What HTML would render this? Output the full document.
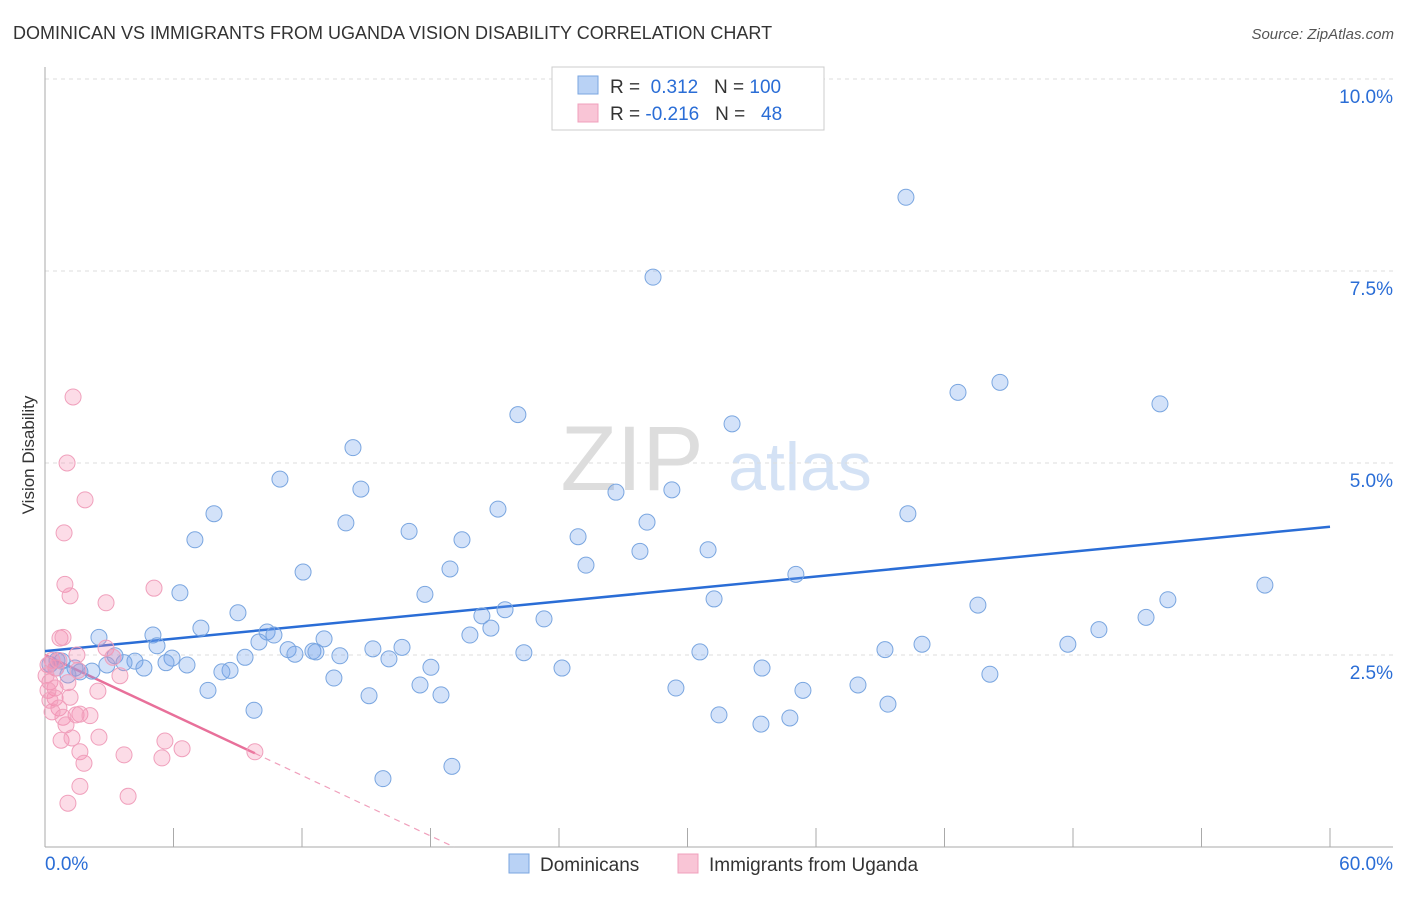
<!DOCTYPE html>
<html><head><meta charset="utf-8"><style>
body{margin:0;background:#fff;font-family:"Liberation Sans",sans-serif;}
svg text{font-family:"Liberation Sans",sans-serif;}
</style></head><body>
<svg id="chart" width="1406" height="892" viewBox="0 0 1406 892">
<text x="13" y="39" font-size="18" fill="#333">DOMINICAN VS IMMIGRANTS FROM UGANDA VISION DISABILITY CORRELATION CHART</text>
<text x="1394" y="39" font-size="15" fill="#555" font-style="italic" text-anchor="end">Source: ZipAtlas.com</text>
<text x="34" y="455" font-size="17" fill="#333" text-anchor="middle" transform="rotate(-90 34 455)">Vision Disability</text>
<g><text x="632" y="490" font-size="92" fill="#ddd" text-anchor="middle" font-family="Liberation Serif">ZIP</text><text x="800" y="490" font-size="68" fill="#d4e2f5" text-anchor="middle">atlas</text></g>
<g id="grid"></g><g id="axes"></g><g id="trend"></g><g id="pts"></g>
<g>
<rect x="552" y="67" width="272" height="63" fill="#fff" stroke="#ccc"/>
<rect x="578" y="76" width="20" height="18" fill="#b9d2f5" stroke="#7aa6e0"/>
<rect x="578" y="104" width="20" height="18" fill="#f9c5d6" stroke="#f0a0bc"/>
<text x="610" y="93" font-size="19" fill="#333">R = <tspan fill="#2a6dd6">&#160;0.312</tspan>&#160;&#160; N = <tspan fill="#2a6dd6">100</tspan></text>
<text x="610" y="120" font-size="19" fill="#333">R = <tspan fill="#2a6dd6">-0.216</tspan>&#160;&#160; N = <tspan fill="#2a6dd6">&#160;&#160;48</tspan></text>
</g>
<g>
<rect x="509" y="854" width="20" height="19" fill="#b9d2f5" stroke="#7aa6e0"/>
<text x="540" y="871" font-size="19" fill="#333">Dominicans</text>
<rect x="678" y="854" width="20" height="19" fill="#f9c5d6" stroke="#f0a0bc"/>
<text x="709" y="871" font-size="19" fill="#333">Immigrants from Uganda</text>
</g>
</svg>
<script>
const blueX=[40.2,28.39,44.59,42.63,52.06,22.08,32.08,14.38,10.97,14.75,26.66,29.27,7.89,21.15,40.29,14.05,28.11,17.0,7.0,19.47,24.89,27.78,30.96,12.05,18.91,25.26,35.06,56.96,6.30,17.74,31.24,52.43,43.56,9.01,21.48,20.40,51.41,23.30,7.28,20.82,10.37,49.21,10.69,5.04,2.52,19.84,13.03,9.99,16.67,47.76,40.95,5.23,15.31,11.35,12.51,12.65,30.58,22.36,39.22,11.67,9.34,3.27,5.93,13.77,16.06,4.20,0.79,5.65,3.69,2.89,6.63,4.62,0.23,0.51,1.40,2.19,18.02,8.64,8.26,24.14,33.48,44.12,13.49,17.51,7.61,29.46,37.96,35.39,15.13,18.49,39.36,9.76,31.47,34.78,33.43,19.0,15.78,1.63,1.07,0.56];
const blueY=[8.46,7.42,6.05,5.92,5.77,5.63,5.51,5.20,4.79,4.66,4.62,4.65,4.34,4.40,4.34,4.22,4.23,4.11,4.0,4.0,4.04,3.85,3.87,3.58,3.62,3.67,3.55,3.41,3.31,3.29,3.23,3.22,3.15,3.05,3.09,3.01,2.99,2.97,2.85,2.85,2.80,2.83,2.76,2.76,2.73,2.76,2.71,2.67,2.60,2.64,2.64,2.62,2.58,2.57,2.55,2.54,2.54,2.53,2.57,2.51,2.47,2.49,2.46,2.49,2.45,2.42,2.42,2.40,2.40,2.37,2.37,2.33,2.38,2.33,2.33,2.29,2.34,2.30,2.28,2.33,2.33,2.25,2.20,2.11,2.04,2.07,2.11,2.04,1.97,1.98,1.86,1.78,1.72,1.68,1.60,1.05,0.89,2.28,2.24,2.43];
const pinkX=[1.31,1.03,1.87,0.89,0.93,1.17,5.09,2.85,0.70,0.84,2.85,1.49,0.33,0.51,0.14,3.17,1.54,3.50,0.23,0.47,1.07,2.47,0.14,0.47,1.17,0.65,1.63,1.45,0.84,0.33,0.98,0.75,1.26,2.52,5.60,6.40,3.69,1.63,9.80,5.46,1.82,1.63,3.88,1.07,0.65,0.05,0.23,2.10];
const pinkY=[5.86,5.0,4.52,4.09,3.42,3.27,3.37,3.18,2.72,2.73,2.59,2.50,2.43,2.33,2.37,2.47,2.30,2.23,2.15,2.07,2.14,2.03,2.04,1.94,1.95,1.81,1.73,1.72,1.69,1.76,1.59,1.39,1.42,1.43,1.38,1.28,1.20,1.24,1.24,1.16,1.09,0.79,0.66,0.57,2.43,2.23,1.91,1.71];
const blueTrend=[[0,2.55],[60,4.17]];
const pinkTrend=[[0,2.50],[9.8,1.22]];
const pinkDash=[[9.8,1.22],[19.1,0]];
const yTicks=[2.5,5.0,7.5,10.0];
const xTicks=[0,6,12,18,24,30,36,42,48,54,60];
const NS="http://www.w3.org/2000/svg";
const X0=45,X1=1330,Y0=847,YPX=76.8;
function sx(v){return X0+(X1-X0)*v/60;}
function sy(v){return Y0-v*YPX;}
function mk(tag,attrs,parent){const e=document.createElementNS(NS,tag);for(const k in attrs)e.setAttribute(k,attrs[k]);document.getElementById(parent).appendChild(e);return e;}
yTicks.forEach(t=>{
 const l=mk('line',{x1:45,x2:1393,y1:sy(t),y2:sy(t),stroke:'#ddd','stroke-dasharray':'4,4'},'grid');
 
 
 const tx=mk('text',{x:1393,y:sy(t)+24,'font-size':19,fill:'#2a6dd6','text-anchor':'end'},'grid');
 tx.textContent=t.toFixed(1)+'%';
 
 
});
const ax=mk('line',{x1:45,x2:1393,y1:847,y2:847,stroke:'#aaa'},'axes');


const ay=mk('line',{x1:45,x2:45,y1:67,y2:847,stroke:'#aaa'},'axes');


xTicks.forEach(t=>{
 const l=mk('line',{x1:sx(t),x2:sx(t),y1:828,y2:847,stroke:'#aaa'},'axes');
 
 
});
[[0,'0.0%','start',45],[60,'60.0%','end',1393]].forEach(a=>{
 const tx=mk('text',{x:a[3],y:870,'font-size':19,fill:'#2a6dd6','text-anchor':a[2]},'axes');
 tx.textContent=a[1];
 
 
});
blueX.forEach((x,i)=>{
 const c=mk('circle',{cx:sx(x),cy:sy(blueY[i]),r:8,fill:'rgba(110,160,235,0.3)',stroke:'#7aa6e0','stroke-width':1},'pts');
 
 
});
pinkX.forEach((x,i)=>{
 const c=mk('circle',{cx:sx(x),cy:sy(pinkY[i]),r:8,fill:'rgba(245,140,175,0.3)',stroke:'#f0a0bc','stroke-width':1},'pts');
 
 
});
const bl=mk('line',{x1:sx(blueTrend[0][0]),y1:sy(blueTrend[0][1]),x2:sx(blueTrend[1][0]),y2:sy(blueTrend[1][1]),stroke:'#2a6dd6','stroke-width':2.5},'trend');


const pl=mk('line',{x1:sx(pinkTrend[0][0]),y1:sy(pinkTrend[0][1]),x2:sx(pinkTrend[1][0]),y2:sy(pinkTrend[1][1]),stroke:'#e8709a','stroke-width':2.5},'trend');


const pd=mk('line',{x1:sx(pinkDash[0][0]),y1:sy(pinkDash[0][1]),x2:sx(pinkDash[1][0]),y2:sy(pinkDash[1][1]),stroke:'#f0a0bc','stroke-width':1.2,'stroke-dasharray':'6,5'},'trend');


</script>
</body></html>
